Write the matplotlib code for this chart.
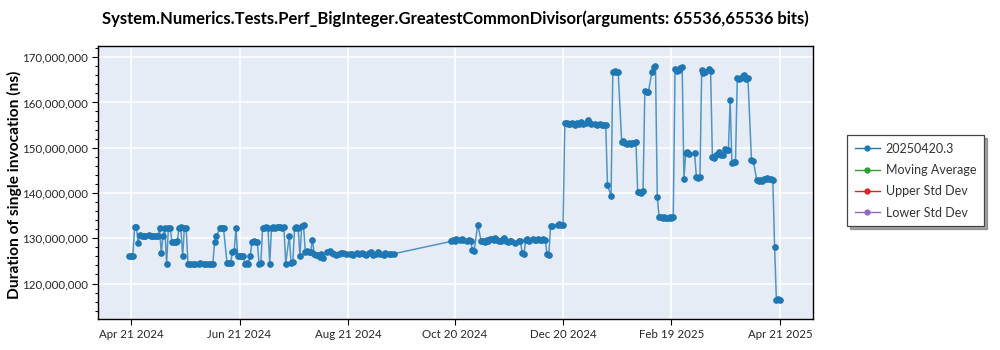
import matplotlib
matplotlib.use("Agg")
import matplotlib.pyplot as plt
from matplotlib.ticker import FuncFormatter, MultipleLocator
import pandas as pd

plt.rcParams['font.family'] = ['Lato', 'DejaVu Sans']

title = "System.Numerics.Tests.Perf_BigInteger.GreatestCommonDivisor(arguments: 65536,65536 bits)"
y_label = "Duration of single invocation (ns)"
series_names = ["20250420.3", "Moving Average", "Upper Std Dev", "Lower Std Dev"]
series_colors = ["#1f77b4", "#2ca02c", "#d62728", "#9467bd"]

run_dates = [
    "2024-04-20", "2024-04-21", "2024-04-22", "2024-04-23", "2024-04-24", "2024-04-25",
    "2024-04-26", "2024-04-27", "2024-04-28", "2024-04-29", "2024-05-01", "2024-05-02",
    "2024-05-03", "2024-05-04", "2024-05-05", "2024-05-06", "2024-05-07", "2024-05-08",
    "2024-05-09", "2024-05-10", "2024-05-11", "2024-05-12", "2024-05-13", "2024-05-14",
    "2024-05-15", "2024-05-16", "2024-05-17", "2024-05-18", "2024-05-19", "2024-05-20",
    "2024-05-21", "2024-05-22", "2024-05-23", "2024-05-24", "2024-05-26", "2024-05-27",
    "2024-05-29", "2024-05-30", "2024-06-01", "2024-06-02", "2024-06-04", "2024-06-05",
    "2024-06-06", "2024-06-07", "2024-06-08", "2024-06-10", "2024-06-11", "2024-06-12",
    "2024-06-14", "2024-06-15", "2024-06-16", "2024-06-17", "2024-06-18", "2024-06-19",
    "2024-06-20", "2024-06-21", "2024-06-22", "2024-06-23", "2024-06-24", "2024-06-25",
    "2024-06-26", "2024-06-27", "2024-06-28", "2024-06-29", "2024-06-30", "2024-07-01",
    "2024-07-02", "2024-07-03", "2024-07-04", "2024-07-05", "2024-07-06", "2024-07-07",
    "2024-07-08", "2024-07-09", "2024-07-10", "2024-07-11", "2024-07-12", "2024-07-13",
    "2024-07-14", "2024-07-15", "2024-07-16", "2024-07-17", "2024-07-19", "2024-07-20",
    "2024-07-21", "2024-07-22", "2024-07-23", "2024-07-24", "2024-07-25", "2024-07-26",
    "2024-07-27", "2024-07-28", "2024-07-29", "2024-07-30", "2024-07-31", "2024-08-01",
    "2024-08-02", "2024-08-03", "2024-08-04", "2024-08-05", "2024-08-06", "2024-08-07",
    "2024-08-09", "2024-08-11", "2024-08-12", "2024-08-13", "2024-08-14", "2024-08-16",
    "2024-08-17", "2024-08-18", "2024-08-20", "2024-08-22", "2024-08-23", "2024-08-24",
    "2024-08-26", "2024-08-27", "2024-08-29", "2024-08-30", "2024-08-31", "2024-09-02",
    "2024-09-03", "2024-09-04", "2024-09-06", "2024-09-07", "2024-09-08", "2024-09-10",
    "2024-09-11", "2024-09-13", "2024-09-14", "2024-09-16",
    "2024-10-18", "2024-10-19", "2024-10-20", "2024-10-21", "2024-10-23", "2024-10-24",
    "2024-10-25", "2024-10-27", "2024-10-28", "2024-10-29", "2024-10-30", "2024-10-31",
    "2024-11-02", "2024-11-04", "2024-11-05", "2024-11-06", "2024-11-07", "2024-11-08",
    "2024-11-09", "2024-11-10", "2024-11-11", "2024-11-12", "2024-11-13", "2024-11-14",
    "2024-11-15", "2024-11-16", "2024-11-17", "2024-11-18", "2024-11-19", "2024-11-20",
    "2024-11-21", "2024-11-23", "2024-11-25", "2024-11-26", "2024-11-27", "2024-11-28",
    "2024-11-29", "2024-11-30", "2024-12-01", "2024-12-03", "2024-12-04", "2024-12-05",
    "2024-12-06", "2024-12-07", "2024-12-08", "2024-12-09", "2024-12-10", "2024-12-11",
    "2024-12-12", "2024-12-13", "2024-12-14", "2024-12-17", "2024-12-18", "2024-12-19",
    "2024-12-20",
    "2024-12-21", "2024-12-22", "2024-12-23", "2024-12-24", "2024-12-25", "2024-12-27",
    "2024-12-28", "2024-12-29", "2024-12-30", "2024-12-31", "2025-01-02", "2025-01-03",
    "2025-01-04", "2025-01-05", "2025-01-07", "2025-01-08", "2025-01-10", "2025-01-11",
    "2025-01-12", "2025-01-13", "2025-01-14", "2025-01-16", "2025-01-17", "2025-01-18",
    "2025-01-19", "2025-01-20", "2025-01-22", "2025-01-23", "2025-01-24", "2025-01-25",
    "2025-01-26", "2025-01-27", "2025-01-28", "2025-01-29", "2025-01-30", "2025-01-31",
    "2025-02-01", "2025-02-02", "2025-02-03", "2025-02-04", "2025-02-05", "2025-02-06",
    "2025-02-08", "2025-02-09", "2025-02-10", "2025-02-11", "2025-02-12", "2025-02-13",
    "2025-02-14", "2025-02-15", "2025-02-16", "2025-02-17", "2025-02-18", "2025-02-19",
    "2025-02-20", "2025-02-21", "2025-02-22", "2025-02-23", "2025-02-24", "2025-02-25",
    "2025-02-26", "2025-02-27", "2025-02-28", "2025-03-01", "2025-03-04", "2025-03-05",
    "2025-03-06", "2025-03-07", "2025-03-08", "2025-03-09", "2025-03-10", "2025-03-12",
    "2025-03-13", "2025-03-14", "2025-03-15", "2025-03-16", "2025-03-17", "2025-03-18",
    "2025-03-19", "2025-03-20", "2025-03-21", "2025-03-22", "2025-03-23", "2025-03-24",
    "2025-03-25", "2025-03-26", "2025-03-27", "2025-03-28", "2025-03-29", "2025-03-30",
    "2025-03-31", "2025-04-01", "2025-04-02", "2025-04-03", "2025-04-05", "2025-04-06",
    "2025-04-08", "2025-04-09", "2025-04-10", "2025-04-11", "2025-04-12", "2025-04-13",
    "2025-04-14", "2025-04-15", "2025-04-16", "2025-04-17", "2025-04-18", "2025-04-19",
    "2025-04-20", "2025-04-21",
]

# Duration per run, in millions of nanoseconds
duration_millions = [
    126.0, 126.0, 126.1, 132.5, 132.4, 128.9,
    130.8, 130.5, 130.4, 130.6, 130.8, 130.5,
    130.6, 130.5, 130.5, 130.4, 132.3, 126.7,
    130.6, 132.3, 124.4, 132.3, 132.2, 129.2,
    129.1, 129.2, 129.3, 132.3, 132.4, 126.0,
    132.3, 132.3, 124.4, 124.3, 124.4, 124.3,
    124.4, 124.5, 124.3, 124.4, 124.4, 124.3,
    124.4, 129.2, 130.5, 132.2, 132.3, 132.2,
    124.5, 124.6, 124.5, 127.0, 127.1, 132.2,
    126.0, 126.1, 126.0, 126.0, 124.4, 124.5,
    124.4, 126.0, 129.2, 129.3, 129.2, 129.2,
    124.4, 124.5, 132.3, 132.3, 132.4, 132.3,
    124.4, 132.3, 132.4, 132.3, 132.5, 132.4,
    132.4, 132.3, 132.4, 124.4, 130.5, 124.6,
    124.8, 132.3, 132.4, 132.3, 126.0, 132.7,
    132.9, 127.0, 127.1, 126.9, 127.0, 129.7,
    126.6, 126.4, 126.2, 125.9, 126.6, 125.7,
    126.9, 127.2, 126.8, 126.5, 126.3, 126.6,
    126.8, 126.7, 126.6, 126.5, 126.6, 126.4,
    126.7, 126.5, 126.8, 126.5, 126.4, 126.7,
    126.9, 126.4, 126.6, 127.0, 126.5, 126.4,
    126.7, 126.6, 126.5, 126.6,
    129.3, 129.6, 129.5, 129.8, 129.7, 129.8,
    129.6, 129.5, 129.7, 129.4, 127.5, 127.2,
    133.0, 129.3, 129.5, 129.2, 129.6, 129.4,
    129.8, 129.9, 129.6, 130.0, 129.7, 129.4,
    129.5, 129.8, 130.1, 129.5, 129.2, 129.3,
    129.4, 129.0, 129.3, 129.5, 126.7, 126.5,
    129.6, 129.8, 129.5, 129.9, 129.7, 129.6,
    129.8, 129.7, 129.6, 129.8, 129.7, 126.5,
    126.3, 132.7, 132.8, 133.0, 133.1, 132.9,
    133.0,
    155.4, 155.5, 155.3, 155.2, 155.4, 155.1,
    155.5, 155.3, 155.6, 155.2, 155.4, 156.1,
    155.5, 155.3, 155.2, 155.1, 155.2, 155.0,
    155.1, 155.0, 141.7, 139.4, 166.8, 167.0,
    166.7, 166.8, 151.2, 151.4, 151.1, 150.9,
    151.0, 150.8, 151.1, 151.0, 151.2, 140.2,
    140.3, 140.1, 140.4, 162.6, 162.2, 162.3,
    166.8, 167.8, 168.1, 139.2, 134.8, 134.6,
    134.5, 134.7, 134.4, 134.5, 134.6, 134.5,
    134.7, 167.4, 166.9, 167.2, 167.6, 167.9,
    143.2, 148.8, 149.0, 148.7, 148.8, 143.6,
    143.4, 143.5, 167.2, 166.6, 166.8, 167.3,
    167.0, 148.0, 147.8, 148.3, 148.6, 149.0,
    148.3, 148.5, 149.7, 149.6, 149.5, 160.5,
    146.6, 146.8, 146.9, 165.4, 165.1, 165.5,
    165.8, 166.0, 165.2, 165.3, 147.2, 147.1,
    142.8, 142.6, 142.9, 142.7, 143.0, 143.1,
    143.4, 143.0, 143.1, 142.9, 128.1, 116.3,
    116.6, 116.4,
]

x_tick_dates = ["2024-04-21", "2024-06-21", "2024-08-21", "2024-10-20",
                "2024-12-20", "2025-02-19", "2025-04-21"]
x_tick_labels = ["Apr 21 2024", "Jun 21 2024", "Aug 21 2024", "Oct 20 2024",
                 "Dec 20 2024", "Feb 19 2025", "Apr 21 2025"]

dates = pd.to_datetime(run_dates)
values_ns = [v * 1e6 for v in duration_millions]

fig = plt.figure(figsize=(10, 3.5), dpi=100)
ax = fig.add_axes([0.098, 0.089, 0.715, 0.780])
ax.set_facecolor("#e5ecf6")

line_color = series_colors[0]
ax.plot(dates, values_ns, color=line_color, lw=1.1, alpha=0.75, zorder=2)
ax.plot(dates, values_ns, ls="none", marker="o", ms=3.8, color=line_color,
        zorder=3)

# Legend handles for every series
handles = []
for name, col in zip(series_names, series_colors):
    h, = ax.plot([], [], color=col, lw=1, marker="o", ms=3.5, label=name)
    handles.append(h)

ax.set_xlim(pd.Timestamp("2024-04-21") - pd.Timedelta(days=18.6),
            pd.Timestamp("2024-04-21") + pd.Timedelta(days=383.6))
ax.set_ylim(112.2e6, 172.5e6)

ax.set_xticks(pd.to_datetime(x_tick_dates))
ax.set_xticklabels(x_tick_labels)
ax.yaxis.set_major_locator(MultipleLocator(10e6))
ax.yaxis.set_minor_locator(MultipleLocator(2e6))
ax.yaxis.set_major_formatter(FuncFormatter(lambda v, p: f"{v:,.0f}"))

ax.grid(True, which="major", color="white", lw=1.1)
ax.set_axisbelow(True)
for s in ax.spines.values():
    s.set_color("black")
    s.set_linewidth(1.0)

ax.tick_params(axis="both", which="major", labelsize=8.3, colors="black",
               labelcolor="#262626", length=4, width=0.8)
ax.tick_params(axis="y", which="minor", length=2.5, width=0.8)

ax.set_title(title, fontsize=12, fontweight="bold", pad=16)
ax.set_ylabel(y_label, fontsize=11.2, fontweight="bold")
ax.yaxis.set_label_coords(-0.106, 0.49)

leg = fig.legend(handles=handles, loc="upper left",
                 bbox_to_anchor=(0.847, 0.614), borderaxespad=0,
                 fontsize=9, frameon=True, fancybox=False, shadow=True,
                 borderpad=0.6, labelspacing=0.75, handlelength=2.0,
                 handletextpad=0.5)
leg.get_frame().set_edgecolor("#444444")
leg.get_frame().set_linewidth(0.9)
for t in leg.get_texts():
    t.set_color("#333333")

fig.savefig("out.png", dpi=100)
